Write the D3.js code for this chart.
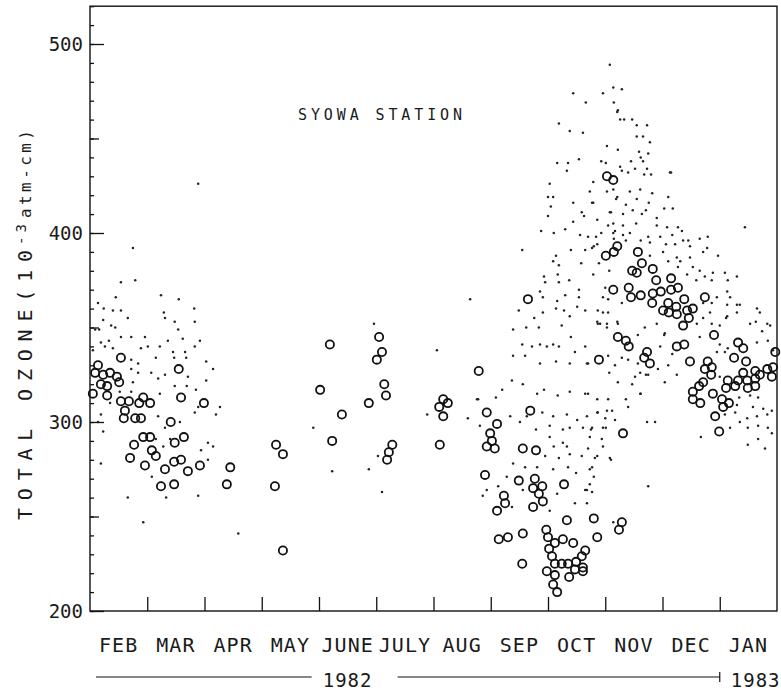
<!DOCTYPE html>
<html>
<head>
<meta charset="utf-8">
<script src="https://cdn.jsdelivr.net/npm/d3@7"></script>
<style>
  body { margin: 0; background: #fff; }
  text { font-family: "DejaVu Sans Mono", monospace; fill: #1a1a1a; }
</style>
</head>
<body>
<div id="chart-area"></div>
<script>
// x values are months since 1 Feb 1982 (0 = Feb 1, 12 = Feb 1 1983), y values total ozone
const monthNames = ["FEB", "MAR", "APR", "MAY", "JUNE", "JULY", "AUG", "SEP", "OCT", "NOV", "DEC", "JAN"]
const yLabelTicks = [200, 300, 400, 500]
const yearLabels = ["1982", "1983"]

// daily total ozone (open circles)
const circlesFebApr = [[0.54,334],[0.14,330],[0.09,326],[0.23,325],[0.35,326],[0.47,324],[0.51,321],[0.19,320],[0.30,319],[0.05,315],[0.30,314],[1.55,328],[1.59,313],[1.99,310],[0.54,311],[0.68,311],[0.61,306],[0.86,310],[0.93,313],[1.05,310],[0.59,302],[0.79,302],[0.89,302],[1.41,300],[0.93,292],[1.05,292],[0.77,288],[1.48,289],[1.64,292],[1.08,285],[1.15,282],[0.70,281],[0.96,277],[1.31,275],[1.47,279],[1.59,280],[1.71,274],[1.92,277],[2.45,276],[1.24,266],[1.47,267],[2.39,267]]
const circlesMayAug = [[4.19,341],[5.05,345],[5.10,337],[5.01,333],[4.02,317],[5.14,320],[5.17,314],[4.87,310],[4.40,304],[4.23,290],[3.25,288],[3.37,283],[5.28,288],[5.22,284],[5.19,280],[3.23,266],[3.37,232],[6.17,312],[6.10,308],[6.25,310],[6.17,303],[6.11,288],[6.79,327]]
const circlesSepOct = [[7.65,365],[6.93,305],[7.11,299],[6.99,294],[7.02,290],[6.93,287],[7.07,286],[7.69,306],[7.56,286],[7.79,285],[6.90,272],[7.49,269],[7.77,270],[7.74,265],[7.90,266],[7.84,262],[7.91,258],[7.23,261],[7.25,257],[7.11,253],[7.74,255],[8.28,267],[8.33,248],[8.80,249],[8.86,239],[9.29,247],[9.24,243],[7.14,238],[7.30,239],[7.56,241],[7.55,225],[7.97,243],[8.00,239],[8.12,236],[8.26,238],[8.44,236],[8.02,233],[8.65,232],[8.07,229],[8.59,229],[8.12,225],[8.24,225],[8.35,225],[8.49,226],[8.61,223],[8.47,222],[7.98,221],[8.12,219],[8.37,218],[8.61,221],[8.09,214],[8.16,210]]
const circlesNovJan = [[9.03,430],[9.14,428],[9.01,388],[9.15,390],[9.21,393],[9.57,390],[9.64,384],[9.47,380],[9.55,379],[9.83,381],[9.14,370],[9.41,371],[9.89,375],[10.15,376],[9.45,366],[9.62,367],[9.83,368],[9.97,369],[10.15,370],[10.27,371],[9.82,363],[10.10,363],[10.24,361],[10.38,365],[10.53,360],[10.74,366],[10.01,359],[10.11,358],[10.25,357],[10.43,359],[10.46,355],[10.36,351],[10.90,346],[11.32,342],[11.41,339],[10.25,340],[10.38,341],[9.73,337],[9.68,334],[9.78,331],[9.22,345],[9.36,343],[9.41,340],[8.89,333],[10.48,332],[10.79,332],[10.74,328],[10.86,329],[10.85,325],[11.25,334],[11.46,332],[11.97,337],[11.41,326],[11.62,327],[11.83,328],[11.93,329],[11.91,324],[11.14,322],[11.32,322],[11.48,322],[11.62,323],[11.70,325],[10.71,321],[10.64,319],[10.53,316],[11.11,318],[11.27,319],[11.49,318],[11.62,319],[10.88,315],[11.04,312],[11.16,310],[11.06,308],[10.53,312],[10.66,310],[10.92,303],[10.99,295],[9.31,294]]

// individual observations (small dots)
const dotsFebApr = [[0.75,392],[0.54,374],[0.79,375],[1.24,367],[1.55,365],[0.45,366],[0.14,363],[0.24,360],[0.40,359],[0.54,359],[0.66,355],[1.29,358],[1.31,355],[1.48,353],[1.82,360],[1.83,353],[0.23,354],[0.37,351],[0.44,350],[1.54,349],[0.09,349],[0.16,349],[0.33,343],[0.19,342],[0.54,345],[0.72,345],[0.96,345],[1.36,343],[1.62,344],[1.92,343],[0.05,338],[0.26,340],[0.40,339],[0.89,339],[1.01,340],[1.22,340],[1.45,337],[1.66,337],[1.83,340],[0.72,333],[0.84,331],[1.15,334],[1.47,334],[1.68,334],[2.03,332],[2.15,328],[0.72,328],[0.84,326],[1.07,326],[1.31,325],[1.71,324],[0.75,321],[1.19,323],[1.48,319],[1.69,319],[1.85,317],[1.22,315],[2.03,322],[0.52,316],[0.72,316],[0.35,310],[1.89,308],[2.27,308],[2.20,304],[1.83,305],[1.19,303],[0.19,304],[0.14,300],[1.57,300],[1.31,297],[0.23,295],[1.15,291],[1.40,291],[2.06,289],[2.15,287],[1.94,285],[1.28,287],[0.19,278],[2.06,280],[1.08,271],[1.89,261],[1.33,260],[0.66,260],[1.89,426],[0.93,247],[2.59,241]]
const dotsMayAug = [[4.96,352],[6.06,338],[3.90,297],[5.89,304],[6.60,302],[5.03,282],[4.87,275],[4.23,274],[5.10,263],[6.78,312]]
const dotsSepOct = [[8.44,474],[8.66,469],[8.96,474],[9.15,469],[9.21,464],[8.19,458],[8.38,454],[8.61,453],[9.03,446],[9.22,444],[8.16,437],[8.33,433],[8.54,439],[8.93,438],[8.03,426],[8.79,427],[8.73,422],[9.03,422],[9.21,419],[8.00,419],[8.09,419],[8.44,416],[8.77,416],[8.05,414],[8.59,411],[9.08,411],[8.00,409],[8.63,409],[8.86,407],[8.44,406],[9.05,404],[8.30,402],[7.88,401],[8.10,400],[8.56,399],[8.70,398],[8.93,400],[9.14,400],[9.15,397],[8.77,392],[8.86,394],[8.65,391],[8.40,391],[7.55,391],[8.14,388],[8.09,385],[8.58,384],[8.19,383],[8.89,384],[9.07,380],[8.79,378],[8.17,378],[7.93,377],[7.95,374],[8.37,375],[8.19,374],[8.54,370],[9.00,371],[7.86,369],[8.30,367],[8.54,366],[7.91,366],[8.16,364],[8.96,366],[8.51,361],[8.65,359],[8.14,360],[8.28,359],[9.05,358],[7.76,355],[7.91,358],[8.38,356],[8.87,359],[8.24,351],[8.87,352],[9.03,350],[7.39,349],[7.62,350],[7.84,350],[8.40,345],[7.55,341],[7.72,340],[7.86,341],[8.09,341],[6.64,365],[7.49,359],
  [7.98,340],[8.19,340],[8.47,337],[8.65,340],[9.07,326],[9.17,330],[7.39,335],[7.60,335],[7.86,331],[8.14,332],[8.38,331],[8.68,331],[7.20,317],[7.37,322],[7.56,320],[7.81,315],[7.93,317],[8.17,314],[8.38,316],[8.65,315],[8.86,312],[9.05,312],[6.76,312],[7.09,313],[7.34,303],[7.63,303],[7.90,305],[8.09,303],[8.33,304],[8.51,301],[8.68,303],[8.87,305],[9.03,306],[6.81,298],[7.51,300],[7.79,296],[8.03,298],[8.26,296],[8.38,297],[8.61,297],[8.75,296],[8.96,297],[8.03,292],[8.26,289],[8.33,287],[8.10,287],[7.95,282],[8.19,281],[8.38,283],[8.59,282],[8.82,281],[9.08,281],[7.39,278],[7.60,276],[7.81,276],[8.09,275],[8.35,276],[8.49,273],[8.73,275],[7.28,271],[7.13,266],[6.93,264],[7.56,264],[8.16,262],[8.68,264],[8.03,253],[8.47,257],[8.68,257],[7.37,255],[6.86,261]]
const dotsNovJan = [[9.08,489],[9.14,477],[9.29,476],[9.22,465],[9.26,460],[9.33,460],[9.47,460],[9.55,457],[9.73,457],[9.66,451],[9.55,451],[9.78,448],[9.59,443],[9.75,442],[9.62,440],[9.01,437],[9.26,435],[9.45,438],[9.66,438],[9.52,434],[9.73,434],[9.29,433],[9.40,432],[9.68,431],[9.80,431],[10.15,432],[8.35,437],
  [10.13,432],[9.43,422],[9.61,423],[9.82,421],[9.14,423],[9.19,418],[9.36,415],[9.55,418],[9.76,416],[10.10,419],[8.79,416],[9.10,411],[9.31,410],[9.48,412],[9.64,410],[9.71,412],[9.90,408],[10.03,413],[10.18,413],[9.14,405],[9.31,404],[9.54,405],[9.90,404],[10.08,403],[10.27,403],[10.34,401],[9.17,401],[9.31,399],[9.43,400],[9.75,398],[9.96,398],[10.17,399],[10.45,396],[10.65,397],[10.79,398],[8.84,398],[8.80,393],[9.36,396],[9.62,396],[9.78,395],[10.06,394],[10.22,394],[10.36,396],[10.48,393],[10.71,390],[10.78,392],[9.78,388],[10.01,390],[10.25,387],[10.48,387],[10.97,388],[10.10,385],[10.31,385],[10.53,382],[10.27,382],[10.65,380],[10.74,377],[10.88,379],[11.09,379],[10.43,378],[10.59,375],[10.86,375],[11.14,375],[11.30,377],[11.13,369],[10.95,366],[11.18,366],[11.30,362],[10.86,363],[11.44,403],[11.13,356],[11.30,358],[11.70,358],[11.88,351],[11.63,353],[10.83,358],[10.71,355],[9.05,365],[8.96,358],[9.29,363],[8.86,353],[9.03,352],[9.21,353],[10.86,352],[10.60,352],
  [10.71,363],[11.13,362],[11.35,362],[11.65,360],[11.83,352],[11.74,348],[11.53,352],[11.00,351],[11.11,355],[9.69,350],[9.90,352],[10.04,347],[10.65,345],[11.00,341],[11.14,339],[11.09,337],[10.95,337],[11.65,342],[11.84,343],[11.93,338],[9.96,340],[10.17,336],[10.10,330],[9.92,328],[9.61,326],[9.75,325],[10.04,321],[10.25,325],[11.00,324],[11.34,313],[11.53,314],[11.67,313],[11.30,309],[11.58,308],[11.76,307],[11.91,306],[11.09,304],[11.27,305],[11.48,302],[11.65,303],[11.83,304],[11.18,297],[11.35,300],[11.49,297],[11.67,298],[11.84,297],[11.91,294],[11.67,291],[11.49,288],[11.79,286],[9.73,300],[9.87,300],[10.67,292],[9.61,315],
  [8.91,352],[9.22,352],[10.03,346],[9.57,346],[9.29,334],[9.40,333],[9.05,335],[8.70,331],[9.57,331],[9.71,325],[9.52,324],[9.22,321],[9.47,320],[8.70,315],[9.36,312],[9.40,308],[9.62,315],[8.86,305],[9.12,306],[9.00,302],[8.77,297],[9.01,297],[9.17,301],[8.73,292],[8.94,291],[8.96,287],[8.70,286],[9.10,280],[8.86,282],[8.77,276],[8.80,271],[8.73,267],[8.65,264],[8.77,263],[9.75,266],[9.14,247]]

const dots = dotsFebApr.concat(dotsMayAug, dotsSepOct, dotsNovJan)
const circles = circlesFebApr.concat(circlesMayAug, circlesSepOct, circlesNovJan)

let width = 781
let height = 691

let svg = d3.select("#chart-area")
  .append("svg")
    .attr("width", width)
    .attr("height", height)

let x = d3.scaleLinear().domain([0, 12]).range([90, 777])
let y = d3.scaleLinear().domain([200, 520]).range([611, 6.2])
let xBand = d3.scaleBand().domain(monthNames).range([90, 777])

// frame
svg.append("rect")
  .attr("x", x(0))
  .attr("y", y(520))
  .attr("width", x(12) - x(0))
  .attr("height", y(200) - y(520))
  .attr("fill", "none")
  .attr("stroke", "#111")
  .attr("stroke-width", 1.4)

// left axis: minor ticks every 10, medium every 50, labelled every 100
let leftMinor = d3.axisLeft(y).tickValues(d3.range(200, 521, 10)).tickSize(-4).tickFormat("")
svg.append("g")
  .attr("transform", "translate(" + x(0) + ",0)")
  .call(leftMinor)
  .call(g => g.select(".domain").remove())

let leftMid = d3.axisLeft(y).tickValues(d3.range(250, 521, 100)).tickSize(-9).tickFormat("")
svg.append("g")
  .attr("transform", "translate(" + x(0) + ",0)")
  .call(leftMid)
  .call(g => g.select(".domain").remove())

let leftAxis = d3.axisLeft(y).tickValues(yLabelTicks).tickSize(-14).tickPadding(7)
svg.append("g")
  .attr("class", "left axis")
  .attr("transform", "translate(" + x(0) + ",0)")
  .call(leftAxis)
  .call(g => g.select(".domain").remove())
  .selectAll("text")
    .attr("font-size", "19px")
    .attr("font-family", "DejaVu Sans Mono, monospace")
    .style("fill", "#1a1a1a")

// bottom axis: month boundaries, ticks pointing up
let bottomTicks = d3.axisBottom(x).tickValues(d3.range(1, 12)).tickSize(-14).tickFormat("")
svg.append("g")
  .attr("transform", "translate(0," + y(200) + ")")
  .call(bottomTicks)
  .call(g => g.select(".domain").remove())

let bottomLabels = d3.axisBottom(xBand).tickSize(0).tickPadding(27)
svg.append("g")
  .attr("class", "bottom axis")
  .attr("transform", "translate(0," + y(200) + ")")
  .call(bottomLabels)
  .call(g => g.select(".domain").remove())
  .selectAll("text")
    .attr("font-size", "20px")
    .attr("font-family", "DejaVu Sans Mono, monospace")
    .attr("letter-spacing", "1px")
    .style("fill", "#1a1a1a")

svg.selectAll(".tick line").attr("stroke", "#111").attr("stroke-width", 1.3)

// observations
svg.append("g")
  .selectAll("circle")
  .data(dots)
  .enter()
  .append("circle")
    .attr("cx", d => x(d[0]))
    .attr("cy", d => y(d[1]))
    .attr("r", 1.25)
    .attr("fill", "#222")

svg.append("g")
  .selectAll("circle")
  .data(circles)
  .enter()
  .append("circle")
    .attr("cx", d => x(d[0]))
    .attr("cy", d => y(d[1]))
    .attr("r", 4.1)
    .attr("fill", "none")
    .attr("stroke", "#111")
    .attr("stroke-width", 1.8)

// station name
svg.append("text")
  .attr("x", 298)
  .attr("y", 120)
  .attr("font-size", "15px")
  .attr("textLength", 164)
  .attr("lengthAdjust", "spacing")
  .text("SYOWA STATION")

// y axis label
let yLab = svg.append("g").attr("transform", "translate(32,0) rotate(-90)")
yLab.append("text")
  .attr("x", -520)
  .attr("y", 0)
  .attr("font-size", "20px")
  .attr("textLength", 270)
  .attr("lengthAdjust", "spacing")
  .text("TOTAL OZONE(10")
yLab.append("text")
  .attr("x", -245)
  .attr("y", -6)
  .attr("font-size", "14px")
  .attr("textLength", 21)
  .attr("lengthAdjust", "spacing")
  .text("-3")
yLab.append("text")
  .attr("x", -218)
  .attr("y", -1)
  .attr("font-size", "16px")
  .attr("textLength", 88)
  .attr("lengthAdjust", "spacing")
  .text("atm-cm)")

// year markers under the axis
let yearY = 677
svg.append("line")
  .attr("x1", x(0) + 6).attr("x2", x(4.5) - 36)
  .attr("y1", yearY).attr("y2", yearY)
  .attr("stroke", "#111").attr("stroke-width", 1.2)
svg.append("line")
  .attr("x1", x(4.5) + 50).attr("x2", x(11))
  .attr("y1", yearY).attr("y2", yearY)
  .attr("stroke", "#111").attr("stroke-width", 1.2)
svg.append("line")
  .attr("x1", x(11)).attr("x2", x(11))
  .attr("y1", yearY - 5).attr("y2", yearY + 5)
  .attr("stroke", "#111").attr("stroke-width", 1.2)
svg.append("text")
  .attr("x", x(4.5))
  .attr("y", yearY + 10)
  .attr("font-size", "19px")
  .attr("text-anchor", "middle")
  .attr("letter-spacing", "1px")
  .text(yearLabels[0])
svg.append("text")
  .attr("x", x(11) + 11)
  .attr("y", yearY + 10)
  .attr("font-size", "19px")
  .attr("letter-spacing", "1px")
  .text(yearLabels[1])
</script>
</body>
</html>
